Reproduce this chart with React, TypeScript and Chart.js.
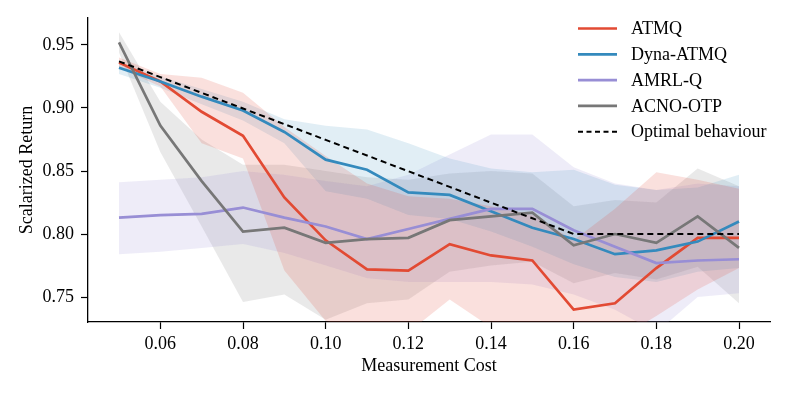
import React, { useEffect, useRef } from "react";
import { Chart, registerables } from "chart.js";

Chart.register(...registerables);

// ---- data ----
const costs = [0.05, 0.06, 0.07, 0.08, 0.09, 0.1, 0.11, 0.12, 0.13, 0.14, 0.15, 0.16, 0.17, 0.18, 0.19, 0.2];

const atmqMean = [0.936, 0.921, 0.897, 0.878, 0.829, 0.795, 0.772, 0.771, 0.792, 0.783, 0.779, 0.740, 0.745, 0.773, 0.797, 0.797];
const atmqLow = [0.932, 0.917, 0.872, 0.860, 0.771, 0.731, 0.722, 0.722, 0.748, 0.726, 0.724, 0.712, 0.715, 0.735, 0.756, 0.773];
const atmqHigh = [0.940, 0.927, 0.924, 0.912, 0.885, 0.862, 0.840, 0.830, 0.828, 0.822, 0.815, 0.795, 0.820, 0.849, 0.843, 0.836];

const dynaMean = [0.932, 0.921, 0.909, 0.898, 0.881, 0.859, 0.851, 0.833, 0.831, 0.818, 0.805, 0.796, 0.784, 0.787, 0.794, 0.810];
const dynaLow = [0.927, 0.916, 0.903, 0.890, 0.872, 0.834, 0.828, 0.815, 0.812, 0.802, 0.790, 0.776, 0.766, 0.762, 0.770, 0.773];
const dynaHigh = [0.936, 0.925, 0.915, 0.905, 0.891, 0.886, 0.883, 0.872, 0.860, 0.852, 0.849, 0.851, 0.839, 0.835, 0.837, 0.847];

const amrlMean = [0.813, 0.815, 0.816, 0.821, 0.813, 0.806, 0.796, 0.804, 0.812, 0.820, 0.820, 0.803, 0.790, 0.777, 0.779, 0.780];
const amrlLow = [0.784, 0.786, 0.789, 0.792, 0.785, 0.775, 0.765, 0.762, 0.762, 0.762, 0.760, 0.752, 0.740, 0.722, 0.750, 0.753];
const amrlHigh = [0.841, 0.843, 0.845, 0.850, 0.847, 0.842, 0.838, 0.847, 0.863, 0.879, 0.879, 0.853, 0.840, 0.835, 0.840, 0.838];

const acnoMean = [0.952, 0.886, 0.842, 0.802, 0.805, 0.793, 0.796, 0.797, 0.811, 0.814, 0.817, 0.791, 0.800, 0.793, 0.814, 0.789];
const acnoLow = [0.944, 0.865, 0.806, 0.746, 0.752, 0.732, 0.745, 0.748, 0.770, 0.775, 0.778, 0.761, 0.769, 0.764, 0.774, 0.745];
const acnoHigh = [0.960, 0.905, 0.875, 0.855, 0.855, 0.850, 0.845, 0.843, 0.848, 0.850, 0.848, 0.822, 0.827, 0.825, 0.852, 0.838];

const optimal = [0.937, 0.9245, 0.912, 0.8996, 0.8872, 0.8747, 0.8623, 0.8498, 0.8374, 0.8249, 0.8125, 0.8, 0.8, 0.8, 0.8, 0.8];

const xTicks = [0.06, 0.08, 0.1, 0.12, 0.14, 0.16, 0.18, 0.2];
const yTicks = [0.75, 0.8, 0.85, 0.9, 0.95];

const FONT = "'Liberation Serif', 'Times New Roman', serif";

const series = [
  { label: "ATMQ", mean: atmqMean, low: atmqLow, high: atmqHigh, color: "#E24A33", fill: "rgba(226,74,51,0.17)" },
  { label: "Dyna-ATMQ", mean: dynaMean, low: dynaLow, high: dynaHigh, color: "#348ABD", fill: "rgba(52,138,189,0.15)" },
  { label: "AMRL-Q", mean: amrlMean, low: amrlLow, high: amrlHigh, color: "#988ED5", fill: "rgba(152,142,213,0.17)" },
  { label: "ACNO-OTP", mean: acnoMean, low: acnoLow, high: acnoHigh, color: "#777777", fill: "rgba(119,119,119,0.16)" },
];

const pts = (arr: number[]) => arr.map((y, i) => ({ x: costs[i], y }));

const legendPlugin = {
  id: "customLegend",
  afterDraw(chart: any) {
    const { ctx, chartArea } = chart;
    const items = [
      ...series.map((s) => ({ label: s.label, color: s.color, dash: [] as number[], width: 2.7 })),
      { label: "Optimal behaviour", color: "#000000", dash: [5, 3.5], width: 2 },
    ];
    ctx.save();
    ctx.font = `18px ${FONT}`;
    ctx.textBaseline = "middle";
    ctx.textAlign = "left";
    items.forEach((it, k) => {
      const y = chartArea.top + 10.5 + k * 25.8;
      const x0 = chartArea.right - 192;
      ctx.beginPath();
      ctx.setLineDash(it.dash);
      ctx.strokeStyle = it.color;
      ctx.lineWidth = it.width;
      ctx.moveTo(x0, y);
      ctx.lineTo(x0 + 39, y);
      ctx.stroke();
      ctx.setLineDash([]);
      ctx.fillStyle = "#000";
      ctx.fillText(it.label, x0 + 53, y + 1);
    });
    ctx.restore();
  },
};

export default function App() {
  const ref = useRef<HTMLCanvasElement | null>(null);

  useEffect(() => {
    if (!ref.current) return;
    const datasets: any[] = [];
    series.forEach((s, i) => {
      datasets.push({
        label: s.label + " upper",
        data: pts(s.high),
        borderWidth: 0,
        pointRadius: 0,
        backgroundColor: s.fill,
        fill: "+1",
        order: 20 + i,
      });
      datasets.push({
        label: s.label + " lower",
        data: pts(s.low),
        borderWidth: 0,
        pointRadius: 0,
        fill: false,
        order: 20 + i,
      });
    });
    series.forEach((s, i) => {
      datasets.push({
        label: s.label,
        data: pts(s.mean),
        borderColor: s.color,
        borderWidth: 2.7,
        pointRadius: 0,
        fill: false,
        order: 10 - i,
      });
    });
    datasets.push({
      label: "Optimal behaviour",
      data: pts(optimal),
      borderColor: "#000000",
      borderDash: [6, 4],
      borderWidth: 2,
      pointRadius: 0,
      fill: false,
      order: 0,
    });

    const chart = new Chart(ref.current, {
      type: "line",
      data: { datasets },
      options: {
        animation: false,
        responsive: false,
        maintainAspectRatio: false,
        layout: { padding: { left: 0, top: 18, right: 19, bottom: 0 } },
        elements: { line: { tension: 0 } },
        plugins: {
          legend: { display: false },
          tooltip: { enabled: false },
          filler: { propagate: false },
        },
        scales: {
          x: {
            type: "linear",
            min: 0.0425,
            max: 0.2075,
            afterBuildTicks: (scale: any) => {
              scale.ticks = xTicks.map((v) => ({ value: v }));
            },
            afterFit: (scale: any) => {
              scale.height = 73;
            },
            ticks: {
              color: "#000",
              font: { family: FONT, size: 18 },
              padding: 4,
              maxRotation: 0,
              autoSkip: false,
              callback: (v: any) => Number(v).toFixed(2),
            },
            grid: { drawOnChartArea: false, drawTicks: true, tickLength: 7, color: "#000", tickWidth: 1.2 },
            border: { display: true, color: "#000", width: 1.3 },
            title: {
              display: true,
              text: "Measurement Cost",
              color: "#000",
              font: { family: FONT, size: 18 },
              padding: { top: 0, bottom: 18 },
            },
          },
          y: {
            type: "linear",
            min: 0.7302,
            max: 0.9714,
            afterBuildTicks: (scale: any) => {
              scale.ticks = yTicks.map((v) => ({ value: v }));
            },
            afterFit: (scale: any) => {
              scale.width = 88;
            },
            ticks: {
              color: "#000",
              font: { family: FONT, size: 18 },
              padding: 7,
              callback: (v: any) => Number(v).toFixed(2),
            },
            grid: { drawOnChartArea: false, drawTicks: true, tickLength: 7, color: "#000", tickWidth: 1.2 },
            border: { display: true, color: "#000", width: 1.3 },
            title: {
              display: true,
              text: "Scalarized Return",
              color: "#000",
              font: { family: FONT, size: 18 },
              padding: { top: 16, bottom: 0 },
            },
          },
        },
      },
      plugins: [legendPlugin],
    });
    return () => chart.destroy();
  }, []);

  return (
    <div style={{ position: "fixed", left: 0, top: 0, width: 789, height: 395, background: "#fff" }}>
      <canvas ref={ref} width={789} height={395} style={{ width: 789, height: 395 }} />
    </div>
  );
}
